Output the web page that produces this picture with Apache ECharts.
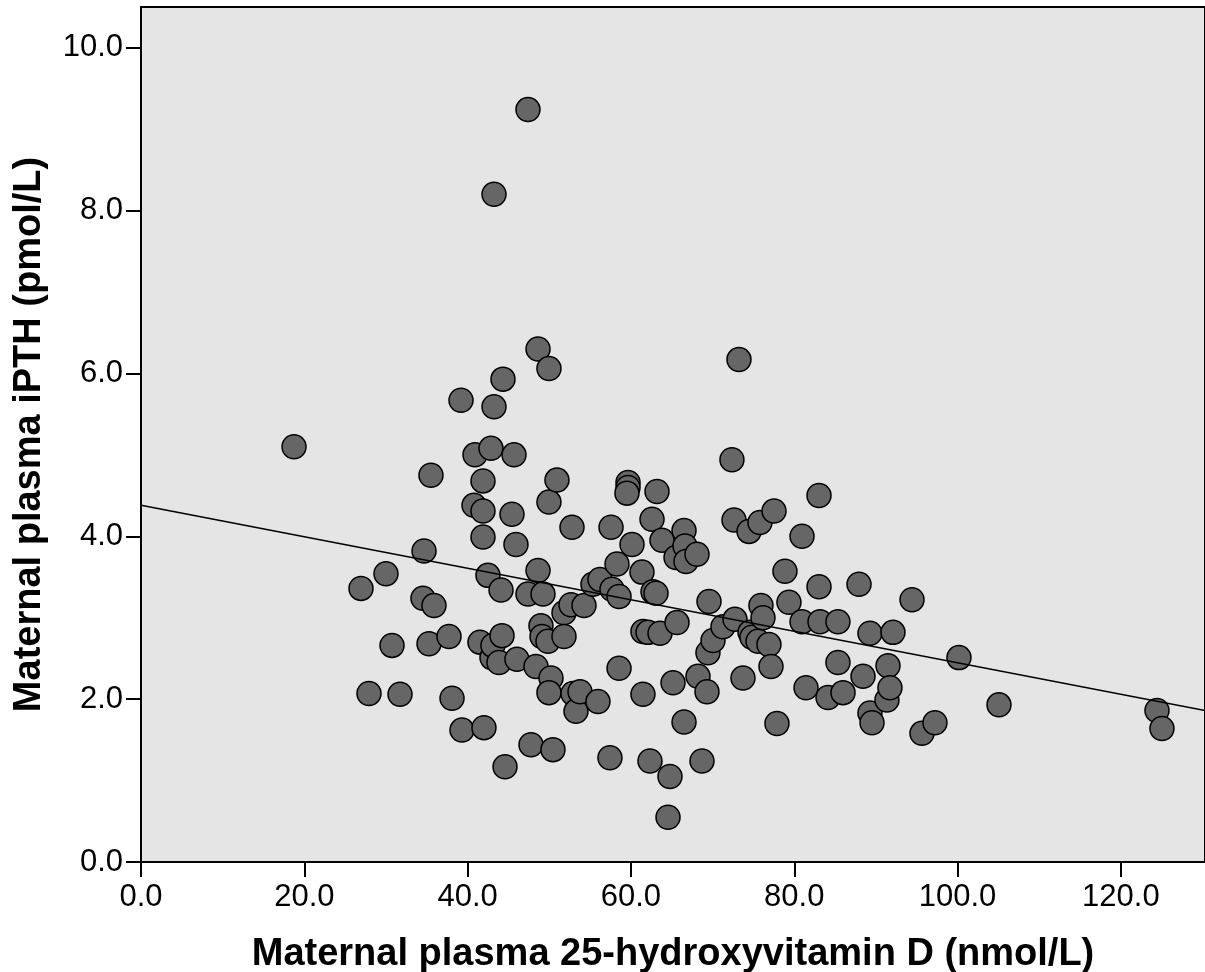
<!DOCTYPE html>
<html>
<head>
<meta charset="utf-8">
<script src="https://cdn.jsdelivr.net/npm/echarts@6/dist/echarts.min.js"></script>
<style>
html,body{margin:0;padding:0;background:#fff;}
#chart{width:1205px;height:972px;}
</style>
</head>
<body>
<div id="chart"></div>
<script>
// Maternal plasma 25-hydroxyvitamin D (nmol/L)
const vitaminD = [
  18.74, 26.94, 27.92, 30.00, 30.74, 31.72, 34.53, 34.66, 35.51, 35.88,
  35.27, 37.72, 38.09, 39.19, 39.31, 40.90, 40.78, 41.88, 41.88, 41.88,
  41.51, 42.00, 42.49, 42.86, 43.23, 43.23, 42.98, 43.10, 43.84, 44.21,
  44.09, 44.33, 44.58, 45.43, 45.68, 45.92, 46.04, 47.39, 47.39, 47.76,
  48.37, 48.62, 48.62, 48.98, 49.23, 49.11, 49.84, 49.96, 49.96, 50.21,
  49.96, 50.45, 50.94, 51.80, 51.80, 52.66, 52.78, 52.90, 53.27, 53.76,
  54.25, 55.35, 55.96, 56.21, 57.43, 57.56, 57.68, 58.29, 58.54, 58.54,
  59.64, 59.64, 59.51, 60.13, 61.35, 61.47, 62.09, 61.47, 62.33, 62.58,
  62.70, 63.07, 63.19, 63.56, 63.80, 64.78, 64.54, 65.15, 65.64, 65.52,
  66.50, 66.62, 66.74, 66.50, 68.09, 68.21, 68.70, 69.31, 69.43, 69.56,
  70.05, 71.27, 72.37, 72.62, 72.74, 73.23, 73.72, 74.58, 74.46, 74.82,
  75.56, 75.80, 75.92, 76.17, 76.90, 77.15, 77.52, 77.88, 78.86, 79.35,
  80.95, 80.95, 81.44, 83.03, 83.03, 83.15, 84.13, 85.35, 85.35, 85.97,
  87.93, 88.42, 89.27, 89.27, 89.52, 91.35, 91.48, 91.72, 92.09, 94.42,
  95.64, 97.23, 100.17, 105.07, 124.42, 125.03
];
// Maternal plasma iPTH (pmol/L)
const iPTH = [
  5.10, 3.36, 2.07, 3.54, 2.66, 2.06, 3.24, 3.82, 4.75, 3.15,
  2.68, 2.77, 2.01, 5.67, 1.62, 5.00, 4.38, 4.31, 4.68, 3.99,
  2.70, 1.65, 3.52, 5.08, 5.59, 8.20, 2.51, 2.66, 2.45, 2.78,
  3.34, 5.93, 1.17, 4.27, 5.00, 3.90, 2.49, 9.24, 3.29, 1.44,
  2.40, 3.58, 6.30, 2.90, 3.29, 2.77, 2.71, 4.42, 6.06, 2.26,
  2.08, 1.38, 4.69, 3.06, 2.77, 3.16, 4.11, 2.07, 1.85, 2.09,
  3.15, 3.41, 1.97, 3.47, 1.28, 4.11, 3.35, 3.66, 2.38, 3.26,
  4.66, 4.60, 4.53, 3.90, 3.56, 2.83, 2.82, 2.06, 1.24, 4.21,
  3.32, 3.30, 4.55, 2.81, 3.95, 1.05, 0.55, 2.20, 2.94, 3.74,
  4.07, 3.88, 3.69, 1.72, 3.78, 2.28, 1.24, 2.09, 2.57, 3.20,
  2.72, 2.89, 4.94, 4.20, 2.98, 6.17, 2.26, 2.82, 4.06, 2.76,
  2.71, 4.17, 3.15, 3.00, 2.67, 2.40, 4.31, 1.70, 3.57, 3.19,
  4.00, 2.95, 2.14, 4.50, 3.38, 2.95, 2.02, 2.95, 2.45, 2.08,
  3.41, 2.28, 2.81, 1.83, 1.71, 1.99, 2.41, 2.14, 2.82, 3.22,
  1.58, 1.71, 2.51, 1.93, 1.86, 1.64
];
// Fitted line end points
const fitX = [0, 130.3];
const fitY = [4.38, 1.86];
// Axis ticks
const xTicks = [0, 20, 40, 60, 80, 100, 120];
const yTicks = [0, 2, 4, 6, 8, 10];
const xTitle = 'Maternal plasma 25-hydroxyvitamin D (nmol/L)';
const yTitle = 'Maternal plasma iPTH (pmol/L)';

const points = vitaminD.map((v, i) => [v, iPTH[i]]);
const fitLine = fitX.map((v, i) => [v, fitY[i]]);

const chart = echarts.init(document.getElementById('chart'), null, {renderer: 'canvas'});
const FONT = 'Liberation Sans, Arial, sans-serif';
chart.setOption({
  animation: false,
  backgroundColor: '#ffffff',
  grid: {
    left: 141, top: 7, right: 0, bottom: 110,
    outerBoundsMode: 'none', containLabel: false,
    show: true, backgroundColor: '#e5e5e5', borderColor: '#000', borderWidth: 2
  },
  xAxis: {
    type: 'value', min: 0, max: 130.3,
    name: xTitle, nameLocation: 'middle', nameGap: 74,
    nameTextStyle: {fontFamily: FONT, fontWeight: 'bold', fontSize: 38, color: '#000'},
    axisLine: {show: true, lineStyle: {color: '#000', width: 2}},
    axisTick: {show: true, inside: false, length: 15, customValues: xTicks, lineStyle: {color: '#000', width: 2}},
    axisLabel: {customValues: xTicks, formatter: v => Number(v).toFixed(1), fontFamily: FONT, fontSize: 31, color: '#000', margin: 20},
    splitLine: {show: false}
  },
  yAxis: {
    type: 'value', min: 0, max: 10.5,
    name: yTitle, nameLocation: 'middle', nameGap: 92,
    nameTextStyle: {fontFamily: FONT, fontWeight: 'bold', fontSize: 38, color: '#000'},
    axisLine: {show: true, lineStyle: {color: '#000', width: 2}},
    axisTick: {show: true, inside: false, length: 15, customValues: yTicks, lineStyle: {color: '#000', width: 2}},
    axisLabel: {customValues: yTicks, formatter: v => Number(v).toFixed(1), fontFamily: FONT, fontSize: 31, color: '#000', margin: 18},
    splitLine: {show: false}
  },
  series: [
    {
      type: 'scatter', data: points, symbol: 'circle', symbolSize: 24,
      itemStyle: {color: '#666666', borderColor: '#000', borderWidth: 1.5, opacity: 1},
      z: 2
    },
    {
      type: 'line', data: fitLine, symbol: 'none', silent: true,
      lineStyle: {color: '#000', width: 1.5}, z: 3
    }
  ]
});
</script>
</body>
</html>
